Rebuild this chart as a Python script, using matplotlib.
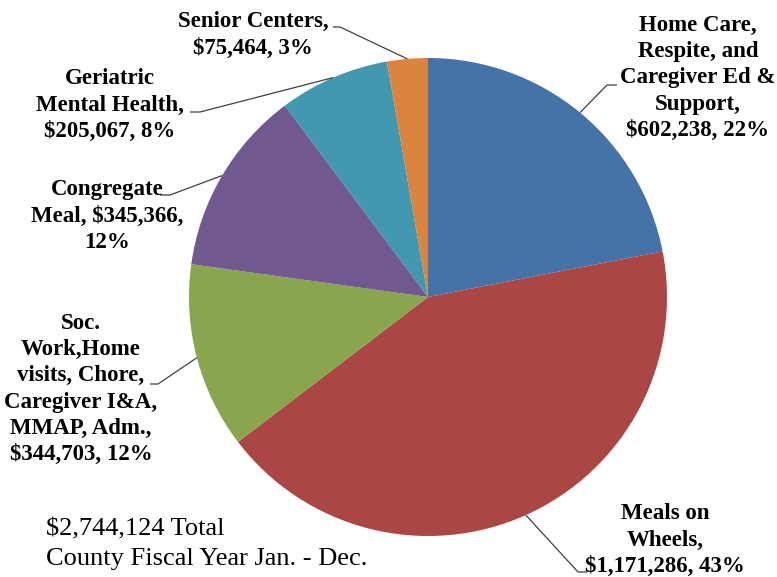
import matplotlib
matplotlib.use('Agg')
import numpy as np
import matplotlib.pyplot as plt

# program budget, in slice order (clockwise from 12 o'clock)
labels = ['Home Care,\nRespite, and\nCaregiver Ed &\nSupport,\n$602,238, 22%',
          'Meals on\nWheels,\n$1,171,286, 43%',
          'Soc.\nWork,Home\nvisits, Chore,\nCaregiver I&A,\nMMAP, Adm.,\n$344,703, 12%',
          'Congregate\nMeal, $345,366,\n12%',
          'Geriatric\nMental Health,\n$205,067, 8%',
          'Senior Centers,\n$75,464, 3%']
values = [602238, 1171286, 344703, 345366, 205067, 75464]
colors = ['#4572A7', '#AA4643', '#89A54E', '#71588F', '#4198AF', '#DB843D']
footer = '$2,744,124 Total\nCounty Fiscal Year Jan. - Dec.'

W, H = 777, 577
fig = plt.figure(figsize=(W / 100, H / 100), dpi=100)
ax = fig.add_axes([0, 0, 1, 1])
ax.set_xlim(0, W)
ax.set_ylim(0, H)
ax.set_aspect('equal')
ax.axis('off')

def py(y):  # pixel row -> axes y
    return H - y

cx, cy, r = 428, py(297), 239
wedges, _ = ax.pie(values, colors=colors, startangle=90, counterclock=False,
                   center=(cx, cy), radius=r, wedgeprops=dict(linewidth=0))
ax.set_xlim(0, W)
ax.set_ylim(0, H)

# text centre (px), elbow point (px), end of the short horizontal tick (px)
label_pos = [(698, 78), (665, 540), (81, 389), (107, 216), (110, 105), (253, 35)]
elbows = [((607, 85), (617, 85)),
          ((578, 572), (587, 572)),
          ((158, 384), (150, 384)),
          ((170, 195), (160, 195)),
          ((200, 112), (190, 112)),
          ((340, 27), (333, 27))]

font = 'Liberation Serif'
for w, lab, (tx, ty), (e1, e2) in zip(wedges, labels, label_pos, elbows):
    mid = np.deg2rad((w.theta1 + w.theta2) / 2)
    ex, ey = cx + r * np.cos(mid), cy + r * np.sin(mid)
    ax.plot([ex, e1[0], e2[0]], [ey, py(e1[1]), py(e2[1])],
            color='#404040', lw=0.9, solid_capstyle='butt')
    ax.text(tx, py(ty), lab, ha='center', va='center', multialignment='center',
            fontfamily=font, fontweight='bold', fontsize=16.5, linespacing=1.32)

ax.text(46, py(544), footer, ha='left', va='center', fontfamily=font,
        fontsize=19, linespacing=1.45)

fig.savefig('out.png', dpi=100)
